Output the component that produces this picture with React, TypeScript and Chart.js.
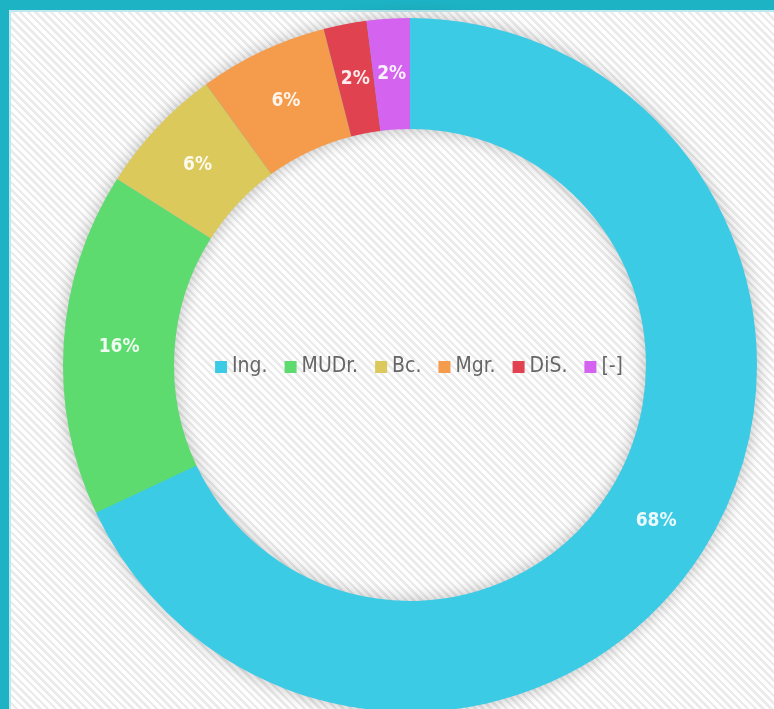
import React, { useEffect, useRef } from "react";
import { Chart, registerables } from "chart.js";
Chart.register(...registerables);

const labels = ["Ing.", "MUDr.", "Bc.", "Mgr.", "DiS.", "[-]"];
const counts = [34, 8, 3, 3, 1, 1];
const colors = ["#3ccbe5", "#5edb6f", "#dcc95b", "#f59c4c", "#e0424f", "#d463f0"];

const FONT = "'DejaVu Sans Condensed', 'DejaVu Sans', sans-serif";

export default function App() {
  const ref = useRef<HTMLCanvasElement>(null);
  useEffect(() => {
    document.body.style.margin = "0";
    const total = counts.reduce((a, b) => a + b, 0);
    const shadowPlugin = {
      id: "ringShadow",
      beforeDatasetsDraw(chart: any) {
        const meta = chart.getDatasetMeta(0);
        const arc = meta.data[0];
        if (!arc) return;
        const { x, y, outerRadius, innerRadius } = arc.getProps(["x", "y", "outerRadius", "innerRadius"], true);
        const ctx = chart.ctx;
        ctx.save();
        ctx.shadowColor = "rgba(0,0,0,0.28)";
        ctx.shadowBlur = 18;
        ctx.fillStyle = "#3ccbe5";
        ctx.beginPath();
        ctx.arc(x, y, outerRadius - 1, 0, Math.PI * 2);
        ctx.arc(x, y, innerRadius + 1, 0, Math.PI * 2, true);
        ctx.fill();
        ctx.restore();
      },
    };
    const labelPlugin = {
      id: "pctLabels",
      afterDatasetsDraw(chart: any) {
        const ctx = chart.ctx;
        const meta = chart.getDatasetMeta(0);
        ctx.save();
        ctx.font = "bold 19px " + FONT;
        ctx.fillStyle = "rgba(255,255,255,0.9)";
        ctx.textAlign = "center";
        ctx.textBaseline = "middle";
        meta.data.forEach((el: any, i: number) => {
          const p = el.tooltipPosition();
          const pct = Math.round((counts[i] / total) * 100) + "%";
          ctx.fillText(pct, p.x, p.y);
        });
        ctx.restore();
      },
    };
    const legendPlugin = {
      id: "centerLegend",
      afterDraw(chart: any) {
        const ctx = chart.ctx;
        const meta = chart.getDatasetMeta(0);
        const arc = meta.data[0];
        if (!arc) return;
        const cx = arc.x + 9;
        const cy = arc.y + 2;
        ctx.save();
        ctx.font = "21px " + FONT;
        ctx.textBaseline = "middle";
        const box = 12;
        const gapBox = 5;
        const gapItem = 17;
        const widths = labels.map((l) => box + gapBox + ctx.measureText(l).width);
        const totalW = widths.reduce((a, b) => a + b, 0) + gapItem * (labels.length - 1);
        let x = cx - totalW / 2;
        labels.forEach((l, i) => {
          ctx.fillStyle = colors[i];
          ctx.fillRect(x, cy - box / 2, box, box);
          ctx.fillStyle = "#666";
          ctx.fillText(l, x + box + gapBox, cy);
          x += widths[i] + gapItem;
        });
        ctx.restore();
      },
    };
    const chart = new Chart(ref.current!, {
      type: "doughnut",
      data: {
        labels,
        datasets: [
          {
            data: counts,
            backgroundColor: colors,
            borderWidth: 0,
          },
        ],
      },
      options: {
        responsive: false,
        animation: false,
        cutout: "68%",
        layout: { padding: { left: 63, right: 17, top: 18, bottom: 18 } },
        plugins: { legend: { display: false }, tooltip: { enabled: false } },
      },
      plugins: [shadowPlugin, labelPlugin, legendPlugin],
    });
    return () => chart.destroy();
  }, []);

  return (
    <div
      style={{
        position: "fixed",
        left: 0,
        top: 0,
        width: 774,
        height: 709,
        overflow: "hidden",
        background: "#1db3c4",
      }}
    >
      <div
        style={{
          position: "absolute",
          left: 9,
          top: 10,
          right: 0,
          bottom: 0,
          borderTop: "2px solid #bfe9ee",
          borderLeft: "2px solid #bfe9ee",
          background:
            "repeating-linear-gradient(45deg, #ffffff 0px, #ffffff 3px, #ebebeb 3px, #ebebeb 5.5px)",
        }}
      />
      <canvas
        ref={ref}
        width={774}
        height={730}
        style={{ position: "absolute", left: 0, top: 0, width: 774, height: 730 }}
      />
    </div>
  );
}
